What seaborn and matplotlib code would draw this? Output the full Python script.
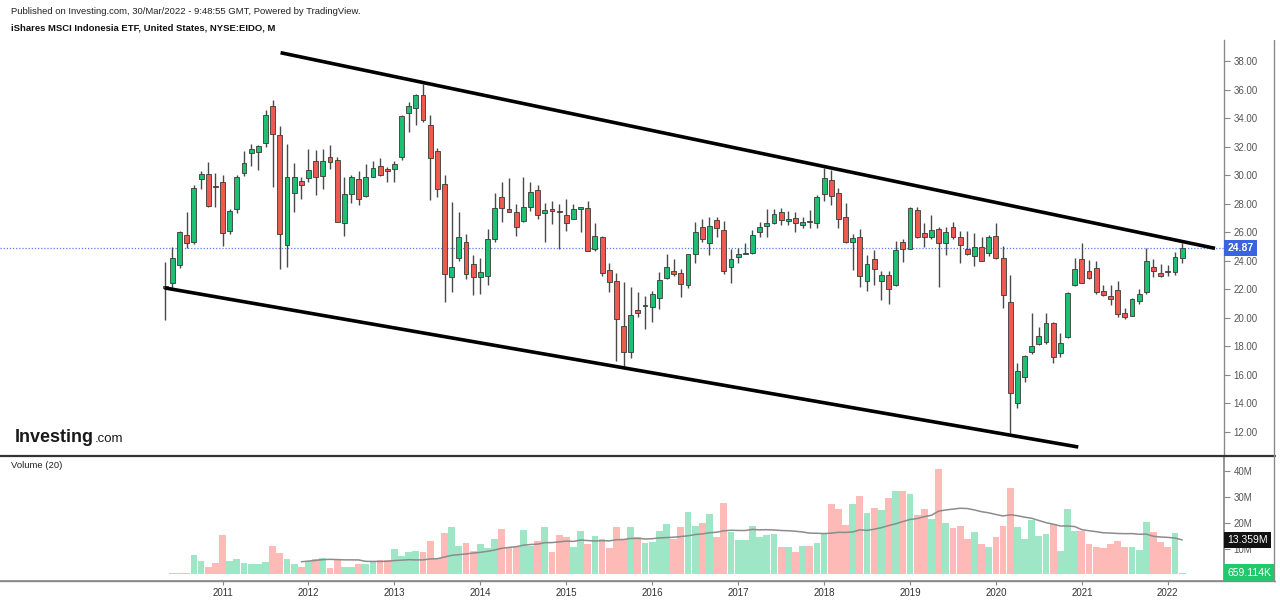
import numpy as np
import pandas as pd
import matplotlib
matplotlib.use("Agg")
import matplotlib.pyplot as plt
import matplotlib.transforms as mtransforms
from matplotlib.lines import Line2D
import seaborn as sns

# ---------------- data (monthly, May 2010 .. Mar 2022) ----------------
months = pd.date_range("2010-05-01", "2022-03-01", freq="MS")

opens = [22.25, 22.46, 23.70, 25.81, 25.30, 29.70, 30.08, 29.25,
         29.55, 26.11, 27.60, 30.17, 31.53, 31.64, 32.23, 34.85, 32.81, 25.11, 28.77, 29.59,
         29.83, 30.99, 29.96, 31.30, 31.06, 26.67, 28.68, 29.71, 28.54, 29.89, 30.66, 30.40,
         30.41, 31.26, 34.38, 34.69, 35.60, 33.52, 31.69, 29.38, 22.84, 24.17, 25.30, 23.75,
         22.89, 22.96, 25.53, 28.49, 27.61, 27.40, 26.81, 27.79, 28.96, 27.37, 27.63, 27.50,
         27.21, 26.91, 27.61, 27.68, 24.80, 25.69, 23.35, 22.58, 19.43, 17.63, 20.55, 20.80,
         20.74, 21.37, 22.77, 23.28, 23.12, 22.30, 24.45, 26.39, 25.22, 26.84, 26.16, 23.59,
         24.29, 24.50, 24.52, 26.00, 26.44, 26.67, 27.44, 26.81, 26.98, 26.51, 26.78, 26.67,
         28.66, 29.66, 28.73, 27.05, 25.30, 25.65, 22.60, 24.10, 22.60, 23.00, 22.30, 25.30,
         24.83, 27.56, 25.97, 25.69, 26.23, 25.27, 26.35, 25.69, 24.80, 24.36, 24.99, 24.52,
         25.74, 24.17, 21.09, 14.01, 15.88, 17.63, 18.15, 18.33, 19.66, 17.56, 18.64, 22.30,
         24.12, 23.28, 23.47, 21.89, 21.53, 21.95, 20.36, 20.13, 21.20, 21.79, 23.59, 23.12,
         23.28, 23.24, 24.17]
highs = [23.90, 25.00, 26.10, 27.40, 29.30, 30.30, 30.94, 30.17,
         30.00, 27.60, 30.00, 31.69, 32.18, 32.10, 34.57, 35.27, 33.44, 32.18, 30.87, 29.89,
         31.81, 31.74, 31.81, 32.11, 31.30, 29.89, 30.00, 30.30, 30.78, 31.00, 31.20, 30.60,
         30.97, 34.20, 35.10, 35.70, 36.40, 34.22, 31.90, 30.01, 28.14, 27.44, 25.86, 24.40,
         24.20, 26.21, 28.73, 29.50, 29.78, 27.98, 29.85, 29.50, 29.30, 28.07, 28.20, 27.98,
         28.30, 27.98, 27.80, 28.20, 26.63, 25.74, 23.87, 23.17, 22.54, 22.19, 21.84, 21.50,
         21.90, 23.24, 24.47, 24.10, 23.40, 24.50, 26.74, 26.91, 27.09, 27.10, 26.79, 24.80,
         24.90, 25.22, 26.16, 26.74, 27.61, 27.60, 27.70, 27.49, 27.40, 27.10, 27.56, 28.60,
         30.48, 30.36, 29.10, 28.03, 25.90, 26.21, 24.40, 24.75, 23.30, 23.30, 25.41, 25.50,
         27.80, 27.79, 26.63, 27.21, 26.40, 26.40, 26.74, 26.10, 26.10, 25.93, 25.70, 25.80,
         26.63, 25.04, 23.00, 16.82, 17.40, 20.36, 19.38, 20.36, 19.70, 18.92, 21.80, 24.17,
         25.27, 24.05, 24.00, 22.30, 22.30, 22.60, 20.70, 21.37, 22.00, 24.87, 24.10, 23.75,
         23.70, 24.61, 25.22]
lows = [19.85, 22.10, 23.50, 24.90, 25.20, 29.00, 27.80, 27.75,
        25.04, 25.90, 27.33, 29.94, 30.64, 30.36, 32.00, 29.19, 23.40, 23.59, 27.44, 28.31,
        29.55, 28.61, 29.01, 30.40, 26.70, 25.74, 28.03, 27.90, 28.50, 29.85, 29.95, 29.55,
        29.55, 31.06, 33.05, 33.50, 33.70, 28.26, 28.49, 21.13, 21.84, 24.00, 22.70, 21.60,
        21.70, 22.30, 25.30, 26.74, 27.40, 25.74, 26.74, 27.50, 26.90, 25.34, 26.58, 24.80,
        26.10, 26.90, 26.04, 24.65, 24.70, 22.93, 21.84, 17.00, 16.53, 17.16, 20.04, 19.20,
        19.73, 20.60, 22.70, 22.90, 21.49, 22.10, 23.82, 25.30, 24.40, 25.65, 23.10, 22.47,
        23.82, 24.45, 24.47, 25.65, 25.65, 26.60, 26.50, 26.50, 26.04, 26.30, 26.30, 26.30,
        28.21, 27.91, 26.28, 25.22, 23.35, 22.14, 21.91, 22.30, 21.25, 20.97, 22.20, 23.94,
        24.80, 25.60, 24.94, 25.50, 22.19, 24.40, 25.50, 23.87, 24.40, 23.63, 23.95, 24.33,
        24.10, 20.67, 11.95, 13.66, 15.53, 17.50, 18.10, 18.20, 16.82, 17.28, 18.57, 22.25,
        22.44, 22.70, 21.67, 21.50, 20.90, 20.04, 19.90, 20.10, 20.95, 21.70, 22.84, 22.84,
        22.90, 22.97, 23.82]
closes = [22.10, 24.17, 26.04, 25.22, 29.08, 30.08, 27.84, 29.20,
          25.97, 27.51, 29.89, 30.87, 31.81, 32.04, 34.22, 32.88, 25.86, 29.85, 29.89, 29.31,
          30.36, 29.85, 30.99, 30.94, 26.74, 28.68, 29.85, 28.31, 29.89, 30.48, 30.01, 30.30,
          30.78, 34.15, 34.87, 35.62, 33.87, 31.18, 29.01, 23.05, 23.59, 25.69, 23.07, 22.84,
          23.24, 25.53, 27.68, 27.68, 27.42, 26.39, 27.75, 28.80, 27.21, 27.56, 27.49, 27.45,
          26.63, 27.63, 27.75, 24.71, 25.74, 23.12, 22.54, 19.90, 17.63, 20.17, 20.36, 20.90,
          21.65, 22.65, 23.59, 23.09, 22.35, 24.45, 26.00, 25.51, 26.46, 26.28, 23.31, 24.12,
          24.45, 24.55, 25.81, 26.35, 26.63, 27.26, 26.86, 26.91, 26.67, 26.70, 26.70, 28.49,
          29.83, 28.56, 26.93, 25.34, 25.58, 22.93, 23.77, 23.40, 23.00, 22.00, 24.75, 24.80,
          27.68, 25.69, 25.65, 26.16, 25.27, 26.04, 25.69, 25.11, 24.47, 24.99, 24.01, 25.69,
          24.17, 21.60, 14.71, 16.28, 17.33, 18.03, 18.73, 19.62, 17.28, 18.26, 21.77, 23.42,
          22.47, 22.81, 21.84, 21.60, 21.34, 20.27, 20.08, 21.30, 21.67, 23.98, 23.31, 22.93,
          23.20, 24.29, 24.87]
volumes_m = [0.3, 0.4, 0.4, 0.4, 7.5, 5.2, 3.0, 4.5,
             15.2, 5.2, 5.8, 4.5, 4.0, 4.0, 4.9, 11.0, 8.4, 5.8, 4.0, 3.0,
             5.2, 5.8, 6.5, 2.6, 5.6, 3.0, 3.0, 4.0, 4.0, 4.9, 5.6, 5.6,
             9.8, 7.1, 8.5, 9.2, 8.8, 12.9, 6.3, 15.9, 18.2, 11.1, 12.0, 9.2,
             11.8, 10.1, 13.6, 17.4, 10.5, 10.5, 17.2, 11.0, 12.9, 18.5, 8.8, 15.2,
             14.3, 10.7, 16.9, 11.8, 15.0, 13.7, 10.1, 18.2, 13.6, 18.2, 14.6, 12.3,
             12.7, 16.9, 19.5, 13.7, 18.2, 24.3, 18.7, 20.0, 23.4, 14.6, 27.8, 16.3,
             13.3, 13.3, 18.7, 14.6, 15.2, 15.6, 10.7, 10.5, 8.8, 11.0, 11.0, 12.3,
             16.1, 27.3, 25.3, 19.1, 27.3, 30.4, 23.9, 25.6, 24.9, 29.7, 32.3, 32.3,
             31.1, 23.0, 25.3, 21.4, 40.8, 20.0, 17.8, 18.9, 13.7, 16.3, 11.8, 10.5,
             14.3, 18.9, 33.3, 18.2, 13.7, 21.1, 14.9, 15.5, 19.5, 9.0, 25.3, 16.8,
             16.8, 11.6, 10.7, 10.1, 11.8, 12.9, 10.5, 10.7, 9.4, 20.12, 16.3, 12.7,
             10.7, 16.1, 0.659114]

year_labels = [str(y) for y in range(2011, 2023)]
price_ticks = [12, 14, 16, 18, 20, 22, 24, 26, 28, 30, 32, 34, 36, 38]
vol_ticks = [10, 20, 30, 40]
last_price = 24.87

# drawn channel lines (month index, price)
upper_line_x = [16.1, 146.6]
upper_line_y = [38.58, 24.87]
lower_line_x = [-0.1, 127.5]
lower_line_y = [22.10, 10.95]

# ---------------- styling ----------------
sns.set_theme(style="white")
plt.rcParams["font.family"] = ["Liberation Sans", "DejaVu Sans"]

GREEN = "#1DBF73"
RED = "#EF5A50"
VGREEN = "#9EE6C6"
VRED = "#FDBAB7"
TXT = "#555555"

df = pd.DataFrame({"date": months, "open": opens, "high": highs,
                   "low": lows, "close": closes, "vol": volumes_m})
df["i"] = np.arange(len(df))
df["dir"] = np.where(df["close"] >= df["open"], "up", "down")
df["sma"] = df["vol"].rolling(20).mean()

W, H = 1280, 601
fig = plt.figure(figsize=(W / 100, H / 100), dpi=100)
fig.patch.set_facecolor("white")

def fx(px):
    return px / W

def fy(py):
    return 1 - py / H

ax = fig.add_axes([0, fy(456), fx(1224), fy(40) - fy(456)])
axv = fig.add_axes([0, fy(580.7), fx(1224), fy(457) - fy(580.7)])

xlim = (-23.08, 147.85)

# ---------------- candles ----------------
body_bottom = np.minimum(df["open"], df["close"])
body_h = np.maximum((df["close"] - df["open"]).abs(), 0.06)
colors = np.where(df["dir"] == "up", GREEN, RED)
ax.vlines(df["i"], df["low"], df["high"], color="#4a4a4a", lw=1.0, zorder=2)
ax.bar(df["i"], body_h, bottom=body_bottom, width=0.68, color=colors,
       edgecolor="#3a3a3a", linewidth=0.6, zorder=3)

ax.axhline(last_price, color="#5C7CF0", lw=0.9, ls=(0, (1, 1.5)), zorder=1)
ax.plot(upper_line_x, upper_line_y, color="black", lw=2.6, solid_capstyle="butt", zorder=4)
ax.plot(lower_line_x, lower_line_y, color="black", lw=2.6, solid_capstyle="butt", zorder=4)

ax.set_xlim(*xlim)
ax.set_ylim(10.32, 39.47)
ax.set_xticks([])
ax.yaxis.tick_right()
ax.set_yticks(price_ticks)
ax.set_yticklabels([f"{v:.2f}" for v in price_ticks])
ax.tick_params(axis="y", right=True, length=4, width=0.8, color="#888888",
               labelsize=7, labelcolor=TXT, pad=3)
for s in ["left", "top", "bottom"]:
    ax.spines[s].set_visible(False)
ax.spines["right"].set_color("#8a8a8a")
ax.spines["right"].set_linewidth(1.0)
ax.set_xlabel("")
ax.set_ylabel("")

trans = mtransforms.blended_transform_factory(ax.transAxes, ax.transData)
ax.annotate(f"{last_price:.2f}", xy=(1.0, last_price), xycoords=trans,
            xytext=(2.5, 0), textcoords="offset points", ha="left", va="center",
            color="white", fontsize=7.5, fontweight="bold", zorder=6,
            annotation_clip=False,
            bbox=dict(boxstyle="square,pad=0.3", fc="#3B63E0", ec="none"))

# ---------------- volume ----------------
sns.barplot(data=df, x="i", y="vol", hue="dir",
            palette={"up": VGREEN, "down": VRED}, native_scale=True,
            dodge=False, width=0.95, legend=False, errorbar=None,
            saturation=1, linewidth=0, ax=axv)
sma_df = df.dropna(subset=["sma"])
sns.lineplot(data=sma_df, x="i", y="sma", color="#8c8c8c", lw=1.1, ax=axv)

axv.set_xlim(*xlim)
axv.set_ylim(-2.48, 45.5)
axv.yaxis.tick_right()
axv.set_yticks(vol_ticks)
axv.set_yticklabels([f"{v}M" for v in vol_ticks])
axv.tick_params(axis="y", right=True, length=4, width=0.8, color="#888888",
                labelsize=7, labelcolor=TXT, pad=3)
axv.set_xticks([8 + 12 * k for k in range(len(year_labels))])
axv.set_xticklabels(year_labels)
axv.tick_params(axis="x", bottom=True, length=3, width=0.8, color="#888888",
                labelsize=7, labelcolor="#333333", pad=2)
for s in ["left", "top"]:
    axv.spines[s].set_visible(False)
axv.spines["right"].set_color("#8a8a8a")
axv.spines["bottom"].set_color("#8a8a8a")
axv.set_xlabel("")
axv.set_ylabel("")

tv = mtransforms.blended_transform_factory(axv.transAxes, axv.transData)
last_sma = df["sma"].iloc[-1]
axv.annotate(f"{last_sma:.3f}M", xy=(1.0, last_sma), xycoords=tv,
             xytext=(2.5, 0), textcoords="offset points", ha="left", va="center",
             color="white", fontsize=7.5, zorder=6, annotation_clip=False,
             bbox=dict(boxstyle="square,pad=0.3", fc="#111111", ec="none"))
last_vol = df["vol"].iloc[-1]
axv.annotate(f"{last_vol * 1000:.3f}K", xy=(1.0, last_vol), xycoords=tv,
             xytext=(2.5, 0), textcoords="offset points", ha="left", va="center",
             color="white", fontsize=7.5, zorder=6, annotation_clip=False,
             bbox=dict(boxstyle="square,pad=0.3", fc="#22C86A", ec="none"))

# ---------------- frame lines & texts ----------------
fig.add_artist(Line2D([0, fx(1275)], [fy(456), fy(456)], color="#333333", lw=1.6))
fig.add_artist(Line2D([0, fx(1275)], [fy(580.7), fy(580.7)], color="#8a8a8a", lw=1.0))
fig.add_artist(Line2D([fx(1274), fx(1274)], [fy(40), fy(581)], color="#8a8a8a", lw=1.0))

fig.text(fx(11), fy(11), "Published on Investing.com, 30/Mar/2022 - 9:48:55 GMT, Powered by TradingView.",
         fontsize=6.8, color="#222222", va="center", ha="left")
fig.text(fx(11), fy(28), "iShares MSCI Indonesia ETF, United States, NYSE:EIDO, M",
         fontsize=6.8, fontweight="bold", color="#111111", va="center", ha="left")
fig.text(fx(11), fy(466), "Volume (20)", fontsize=6.8, color="#222222", va="center", ha="left")
fig.text(fx(15), fy(442), "Investing", fontsize=13, fontweight="bold", color="#1a1a1a",
         va="baseline", ha="left")
fig.text(fx(95), fy(442), ".com", fontsize=9.5, color="#1a1a1a", va="baseline", ha="left")

fig.savefig("out.png", dpi=100, facecolor="white")
